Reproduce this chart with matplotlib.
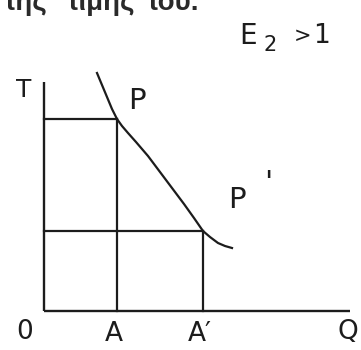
import matplotlib.pyplot as plt

# demand curve, drawn in units from the origin O
demand_q = [53, 58, 63, 68, 73, 78, 84, 92, 104, 116, 128, 140, 150, 159, 166, 174, 181, 188]
demand_t = [238, 226, 214, 202, 192, 185, 178, 169, 155, 139, 123, 107, 93, 80, 74, 68, 65, 63]

# the two price/quantity points P and P'
q_levels = [73, 159]
t_levels = [192, 80]

q_labels = ['A', "A\u2032"]
p_labels = ['P', 'P']

# words of the sentence above the diagram and where each one starts
top_words = ['της', 'τιμής', 'του.']
top_word_x = [-40, 23, 103]

ink = '#1c1c1c'

fig = plt.figure(figsize=(3.61, 3.5), dpi=100)
ax = fig.add_axes([0, 0, 1, 1])
ax.set_xlim(-44, 317)
ax.set_ylim(-39, 311)
ax.axis('off')

# axes drawn by hand
ax.plot([0, 0], [0, 229], color=ink, lw=1.7, solid_capstyle='butt')
ax.plot([0, 306], [0, 0], color=ink, lw=1.7, solid_capstyle='butt')

# rectangles under P and P'
for q, t in zip(q_levels, t_levels):
    ax.plot([0, q], [t, t], color=ink, lw=1.6)
    ax.plot([q, q], [0, t], color=ink, lw=1.6)

ax.plot(demand_q, demand_t, color=ink, lw=1.6, solid_joinstyle='round')

hand = dict(color=ink, ha='center', va='center', family='DejaVu Sans')
ax.text(-20, 221, 'T', fontsize=18, **hand)
ax.text(-19, -21, '0', fontsize=19, **hand)
ax.text(304, -21, 'Q', fontsize=19, **hand)
for q, lab in zip(q_levels, q_labels):
    ax.text(q - 3, -23, lab, fontsize=19, **hand)

ax.text(93, 210, p_labels[0], fontsize=21, **hand)
ax.text(193, 111, p_labels[1], fontsize=21, **hand)
ax.text(224, 127, "'", fontsize=22, **hand)

# elasticity note
ax.text(204, 275, 'E', fontsize=20, **hand)
ax.text(226, 266, '2', fontsize=15, **hand)
ax.text(258, 275, '>', fontsize=15, **hand)
ax.text(278, 275, '1', fontsize=19, **hand)

# line of text running off the top edge
for word, x in zip(top_words, top_word_x):
    ax.text(x, 301, word, fontsize=20, color='#2a2a2a', weight='bold',
            ha='left', va='baseline', family='Liberation Sans')

fig.savefig('out.png', dpi=100)
